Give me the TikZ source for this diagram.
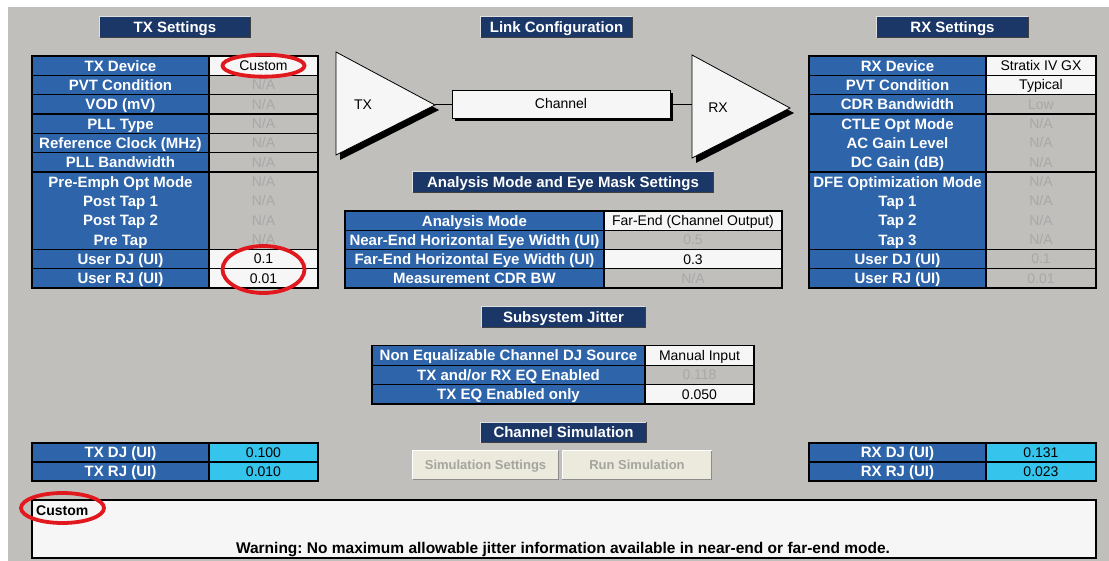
\documentclass[tikz,border=0pt]{standalone}
\usepackage{fontspec}
\setmainfont{Liberation Sans}
\frenchspacing
\definecolor{bg}{RGB}{192,191,188}
\definecolor{navy}{RGB}{26,55,104}
\definecolor{cellblue}{RGB}{45,100,170}
\definecolor{cellwhite}{RGB}{246,246,246}
\definecolor{nagray}{RGB}{168,168,168}
\definecolor{cyanc}{RGB}{52,196,236}
\definecolor{btnfill}{RGB}{236,234,220}
\definecolor{btntext}{RGB}{165,165,160}
\definecolor{redring}{RGB}{225,25,30}
\newcommand{\hdrbar}[5]{%
  \node[hdrbox, minimum width=#4] (#1) at (#2,#3) {#5};
  \draw[hdrlight] (#1.south west) -- (#1.north west) -- (#1.north east);
  \draw[hdrdark] (#1.north east) -- (#1.south east) -- (#1.south west);
}
\begin{document}
\begin{tikzpicture}[x=1pt,y=-1pt,
  lbl/.style={font=\fontsize{15}{15}\selectfont\bfseries, text=white, inner sep=0, text height=10.8pt, text depth=0pt},
  val/.style={font=\fontsize{14}{14}\selectfont, text=black, inner sep=0, text height=10pt, text depth=0pt},
  na/.style={val, text=nagray},
  hdrbox/.style={fill=navy, minimum height=20pt, inner sep=0, text=white, font=\fontsize{15}{15}\selectfont\bfseries, text height=10.8pt, text depth=0pt},
  hdrlight/.style={white!75!gray, line width=1.2pt},
  hdrdark/.style={black!75, line width=1.2pt},
  tabline/.style={black, line width=1.2pt},
  btn/.style={fill=btnfill, inner sep=0, text=btntext, font=\fontsize{13}{13}\selectfont\bfseries, text height=9.4pt, text depth=0pt},
  shape3d/.style={fill=cellwhite, draw=black, line width=0.8pt},
  shadowfill/.style={fill=black},
  wire/.style={draw=black, line width=0.8pt},
  redring/.style={draw=redring, line width=3.8pt}
]
\useasboundingbox (0,0) rectangle (1109,561);
\fill[white] (0,0) rectangle (1109,561);
\fill[bg] (8,7) rectangle (1109,561);

% ---------- headers ----------
\hdrbar{hTX}{175}{27}{150pt}{TX Settings}
\hdrbar{hLink}{556.5}{27}{151pt}{Link Configuration}
\hdrbar{hRX}{952.5}{27}{151pt}{RX Settings}
\hdrbar{hAna}{563}{182}{300pt}{Analysis Mode and Eye Mask Settings}
\hdrbar{hSub}{563.5}{317}{163pt}{Subsystem Jitter}
\hdrbar{hSim}{563.5}{432.5}{165pt}{Channel Simulation}

% ---------- TX table ----------
\fill[cellblue] (32,56) rectangle (209,288);
\fill[bg] (209,56) rectangle (318,288);
\fill[cellwhite] (209,56) rectangle (318,75.33);
\fill[cellwhite] (209,249.33) rectangle (318,288);
\foreach \k in {2,3,4,5,6,7,11,12}
  \draw[tabline] (32,{56+19.333*(\k-1)}) -- (318,{56+19.333*(\k-1)});
\draw[tabline] (32,56) rectangle (318,288);
\draw[tabline] (209,56) -- (209,288);
\foreach \lab/\val/\st [count=\i] in {{TX Device}/Custom/val, {PVT Condition}/{N/A}/na, {VOD (mV)}/{N/A}/na, {PLL Type}/{N/A}/na, {Reference Clock (MHz)}/{N/A}/na, {PLL Bandwidth}/{N/A}/na, {Pre-Emph Opt Mode}/{N/A}/na, {Post Tap 1}/{N/A}/na, {Post Tap 2}/{N/A}/na, {Pre Tap}/{N/A}/na, {User DJ (UI)}/0.1/val, {User RJ (UI)}/0.01/val}{
  \pgfmathsetmacro\yc{56+19.333*(\i-0.5)}
  \node[lbl] (txl\i) at (120.5,\yc) {\lab};
  \node[\st] (txr\i) at (263.5,\yc) {\val};
}

% ---------- RX table ----------
\fill[cellblue] (809,56) rectangle (986,288);
\fill[bg] (986,56) rectangle (1096,288);
\fill[cellwhite] (986,56) rectangle (1096,94.67);
\foreach \k in {2,3,4,7,11,12}
  \draw[tabline] (809,{56+19.333*(\k-1)}) -- (1096,{56+19.333*(\k-1)});
\draw[tabline] (809,56) rectangle (1096,288);
\draw[tabline] (986,56) -- (986,288);
\foreach \lab/\val/\st [count=\i] in {{RX Device}/{Stratix IV GX}/val, {PVT Condition}/Typical/val, {CDR Bandwidth}/Low/na, {CTLE Opt Mode}/{N/A}/na, {AC Gain Level}/{N/A}/na, {DC Gain (dB)}/{N/A}/na, {DFE Optimization Mode}/{N/A}/na, {Tap 1}/{N/A}/na, {Tap 2}/{N/A}/na, {Tap 3}/{N/A}/na, {User DJ (UI)}/0.1/na, {User RJ (UI)}/0.01/na}{
  \pgfmathsetmacro\yc{56+19.333*(\i-0.5)}
  \node[lbl] (rxl\i) at (897.5,\yc) {\lab};
  \node[\st] (rxr\i) at (1041,\yc) {\val};
}

% ---------- link configuration ----------
\fill[shadowfill] (340,57) -- (439,110) -- (340,160) -- cycle;
\draw[shape3d] (336,52) -- (435,105) -- (336,155) -- cycle;
\coordinate (txout) at (435,104.5);
\node[val] (txlab) at (363,105) {TX};
\fill[shadowfill] (696,60) -- (794,113) -- (696,163) -- cycle;
\draw[shape3d] (692,55) -- (790,108) -- (692,158) -- cycle;
\coordinate (rxin) at (692,104.5);
\node[val] (rxlab) at (718,108) {RX};
\fill[shadowfill] (455,93) rectangle (673,121);
\node[shape3d, minimum width=218pt, minimum height=28pt, inner sep=0] (chan) at (561,104.5) {};
\node[val] (chanlab) at (561,103.5) {Channel};
\draw[wire] (txout) -- (chan.west);
\draw[wire] (chan.east) -- (rxin);

% ---------- analysis table ----------
\fill[cellblue] (345,211) rectangle (604,288);
\fill[bg] (604,211) rectangle (782,288);
\fill[cellwhite] (604,211) rectangle (782,230.25);
\fill[cellwhite] (604,249.5) rectangle (782,268.75);
\foreach \k in {2,3,4}
  \draw[tabline] (345,{211+19.25*(\k-1)}) -- (782,{211+19.25*(\k-1)});
\draw[tabline] (345,211) rectangle (782,288);
\draw[tabline] (604,211) -- (604,288);
\foreach \lab/\val/\st [count=\i] in {{Analysis Mode}/{Far-End (Channel Output)}/val, {Near-End Horizontal Eye Width (UI)}/0.5/na, {Far-End Horizontal Eye Width (UI)}/0.3/val, {Measurement CDR BW}/{N/A}/na}{
  \pgfmathsetmacro\yc{211+19.25*(\i-0.5)}
  \node[lbl] (anl\i) at (474.5,\yc) {\lab};
  \node[\st] (anr\i) at (693,\yc) {\val};
}

% ---------- subsystem jitter table ----------
\fill[cellblue] (372,345.7) rectangle (645,404);
\fill[cellwhite] (645,345.7) rectangle (754,404);
\fill[bg] (645,365.13) rectangle (754,384.57);
\foreach \k in {2,3}
  \draw[tabline] (372,{345.7+19.43*(\k-1)}) -- (754,{345.7+19.43*(\k-1)});
\draw[tabline] (372,345.7) rectangle (754,404);
\draw[tabline] (645,345.7) -- (645,404);
\foreach \lab/\val/\st [count=\i] in {{Non Equalizable Channel DJ Source}/{Manual Input}/val, {TX and/or RX EQ Enabled}/0.118/na, {TX EQ Enabled only}/0.050/val}{
  \pgfmathsetmacro\yc{345.7+19.43*(\i-0.5)}
  \node[lbl] (sjl\i) at (508.5,\yc) {\lab};
  \node[\st] (sjr\i) at (699.5,\yc) {\val};
}

% ---------- TX / RX jitter results ----------
\fill[cellblue] (32,443) rectangle (209,481);
\fill[cyanc] (209,443) rectangle (318,481);
\draw[tabline] (32,462) -- (318,462);
\draw[tabline] (32,443) rectangle (318,481);
\draw[tabline] (209,443) -- (209,481);
\node[lbl] (tdjl) at (120.5,452.5) {TX DJ (UI)};
\node[val] (tdjr) at (263.5,452.5) {0.100};
\node[lbl] (trjl) at (120.5,471.5) {TX RJ (UI)};
\node[val] (trjr) at (263.5,471.5) {0.010};

\fill[cellblue] (809,443) rectangle (986,481);
\fill[cyanc] (986,443) rectangle (1096,481);
\draw[tabline] (809,462) -- (1096,462);
\draw[tabline] (809,443) rectangle (1096,481);
\draw[tabline] (986,443) -- (986,481);
\node[lbl] (rdjl) at (897.5,452.5) {RX DJ (UI)};
\node[val] (rdjr) at (1041,452.5) {0.131};
\node[lbl] (rrjl) at (897.5,471.5) {RX RJ (UI)};
\node[val] (rrjr) at (1041,471.5) {0.023};

% ---------- buttons ----------
\node[btn, minimum width=145pt, minimum height=28pt] (bset) at (485.5,465) {Simulation Settings};
\draw[white, line width=1pt] (bset.south west) -- (bset.north west) -- (bset.north east);
\draw[black!45, line width=1.2pt] (bset.north east) -- (bset.south east) -- (bset.south west);
\node[btn, minimum width=149pt, minimum height=28pt] (brun) at (637,465) {Run Simulation};
\draw[white, line width=1pt] (brun.south west) -- (brun.north west) -- (brun.north east);
\draw[black!45, line width=1.2pt] (brun.north east) -- (brun.south east) -- (brun.south west);

% ---------- message box ----------
\node[fill=cellwhite, draw=black, line width=1.2pt, minimum width=1064pt, minimum height=58pt, inner sep=0] (msg) at (564,529) {};
\node[val, font=\fontsize{14}{14}\selectfont\bfseries, anchor=west] (msgdev) at (36,510) {Custom};
\node[val, font=\fontsize{15.5}{15.5}\selectfont\bfseries] (msgwarn) at (563,548) {Warning: No maximum allowable jitter information available in near-end or far-end mode.};

% ---------- red highlight rings ----------
\draw[redring] (txr1) ellipse [x radius=41, y radius=11];
\coordinate (djmid) at (263.5,269.5);
\draw[redring] (djmid) ellipse [x radius=41, y radius=23.5];
\coordinate (msgring) at (62.5,508);
\draw[redring] (msgring) ellipse [x radius=41.5, y radius=15];
\end{tikzpicture}
\end{document}
